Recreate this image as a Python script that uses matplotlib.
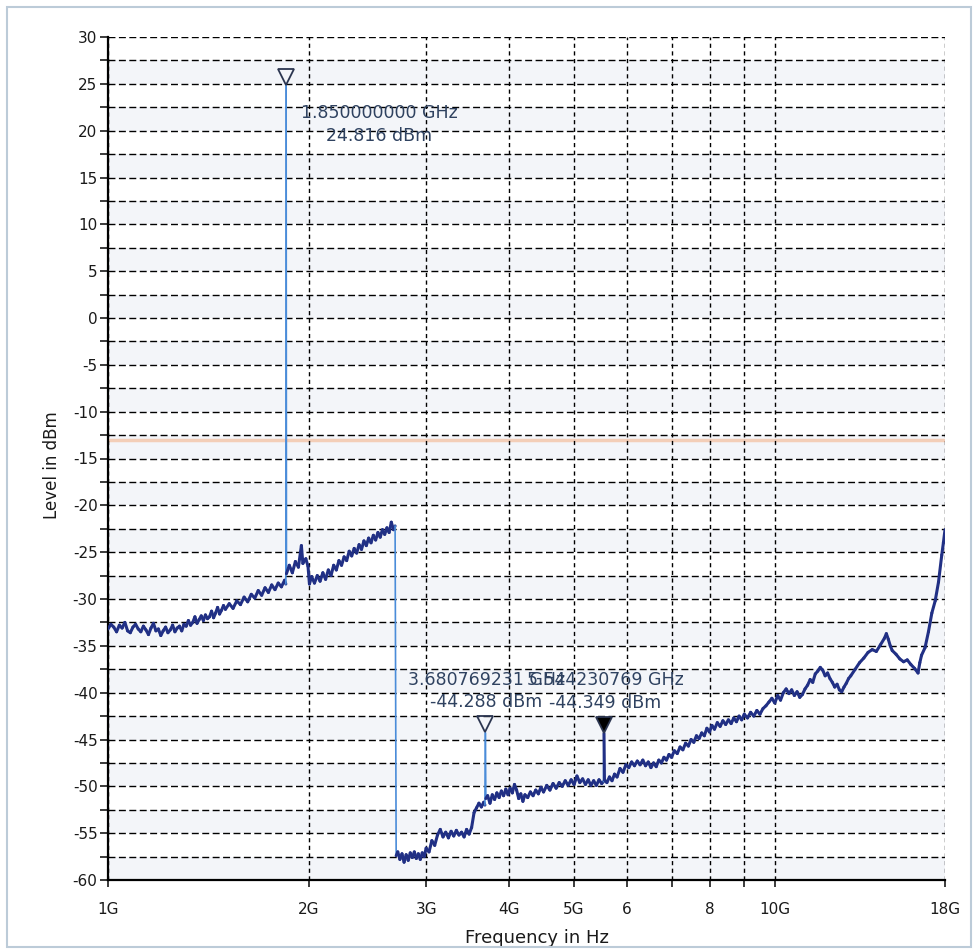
import numpy as np
import matplotlib
matplotlib.use("Agg")
import matplotlib.pyplot as plt
import matplotlib.transforms as mtransforms
from matplotlib.collections import LineCollection
from matplotlib.patches import Rectangle
from matplotlib.ticker import NullLocator

plt.rcParams["font.family"] = ["DejaVu Sans"]
plt.rcParams["axes.unicode_minus"] = False

# Measured spectrum trace (frequency in GHz, level in dBm)
freq_ghz = [
    1.00, 1.01, 1.02, 1.03, 1.04, 1.05, 1.06, 1.07, 1.08, 1.09,
    1.10, 1.11, 1.12, 1.13, 1.14, 1.15, 1.16, 1.17, 1.18, 1.19,
    1.20, 1.21, 1.22, 1.23, 1.24, 1.25, 1.26, 1.27, 1.28, 1.29,
    1.30, 1.31, 1.32, 1.33, 1.34, 1.35, 1.36, 1.37, 1.38, 1.39,
    1.40, 1.41, 1.42, 1.43, 1.44, 1.45, 1.46, 1.47, 1.48, 1.49,
    1.50, 1.52, 1.54, 1.56, 1.58, 1.60, 1.62, 1.64, 1.66, 1.68,
    1.70, 1.72, 1.74, 1.76, 1.78, 1.80, 1.82, 1.84, 1.848, 1.850,
    1.852, 1.87, 1.89, 1.91, 1.93, 1.95, 1.96, 1.98, 1.995, 2.005,
    2.02, 2.04, 2.06, 2.08, 2.10, 2.12, 2.14, 2.16, 2.18, 2.20,
    2.22, 2.24, 2.26, 2.28, 2.30, 2.32, 2.34, 2.36, 2.38, 2.40,
    2.42, 2.44, 2.46, 2.48, 2.50, 2.52, 2.54, 2.56, 2.58, 2.60,
    2.62, 2.64, 2.66, 2.68, 2.695, 2.705, 2.72, 2.74, 2.76, 2.78,
    2.80, 2.82, 2.84, 2.86, 2.88, 2.90, 2.92, 2.94, 2.96, 2.98,
    3.00, 3.03, 3.06, 3.09, 3.12, 3.15, 3.18, 3.21, 3.24, 3.27,
    3.30, 3.33, 3.36, 3.39, 3.42, 3.45, 3.48, 3.51, 3.54, 3.57,
    3.60, 3.63, 3.66, 3.675, 3.680769231, 3.687, 3.71, 3.74, 3.77, 3.80,
    3.83, 3.86, 3.89, 3.92, 3.95, 3.98, 4.01, 4.04, 4.07, 4.10,
    4.13, 4.16, 4.19, 4.22, 4.26, 4.30, 4.34, 4.38, 4.42, 4.46,
    4.50, 4.55, 4.60, 4.65, 4.70, 4.75, 4.80, 4.85, 4.90, 4.95,
    5.00, 5.05, 5.10, 5.15, 5.20, 5.25, 5.30, 5.35, 5.40, 5.45,
    5.50, 5.535, 5.544230769, 5.553, 5.60, 5.65, 5.70, 5.75, 5.80, 5.86,
    5.92, 5.98, 6.04, 6.10, 6.16, 6.22, 6.28, 6.34, 6.40, 6.46,
    6.52, 6.58, 6.64, 6.70, 6.76, 6.82, 6.88, 6.94, 7.00, 7.07,
    7.14, 7.21, 7.28, 7.35, 7.42, 7.49, 7.56, 7.63, 7.70, 7.77,
    7.84, 7.91, 7.98, 8.05, 8.12, 8.20, 8.28, 8.36, 8.44, 8.52,
    8.60, 8.68, 8.76, 8.84, 8.92, 9.00, 9.10, 9.20, 9.30, 9.40,
    9.50, 9.60, 9.70, 9.80, 9.90, 10.0, 10.1, 10.2, 10.3, 10.4,
    10.5, 10.6, 10.7, 10.8, 10.9, 11.0, 11.1, 11.2, 11.3, 11.4,
    11.5, 11.6, 11.7, 11.8, 11.9, 12.0, 12.1, 12.2, 12.3, 12.4,
    12.5, 12.6, 12.7, 12.8, 12.9, 13.0, 13.2, 13.4, 13.6, 13.8,
    14.0, 14.2, 14.4, 14.6, 14.7, 14.8, 14.9, 15.0, 15.2, 15.4,
    15.6, 15.8, 16.0, 16.2, 16.4, 16.5, 16.6, 16.8, 17.0, 17.2,
    17.4, 17.6, 17.8, 17.9, 18.0,
]
level_dbm = [
    -33.2, -32.7, -33.0, -33.5, -32.8, -33.1, -32.5, -33.4, -33.6, -33.0,
    -32.7, -33.2, -33.5, -32.9, -33.3, -33.8, -33.1, -32.6, -33.4, -33.2,
    -33.9, -33.4, -33.0, -33.6, -33.3, -32.8, -33.5, -33.1, -32.9, -33.4,
    -32.7, -32.9, -32.3, -32.8, -32.5, -31.9, -32.6, -32.2, -31.8, -32.3,
    -31.7, -32.1, -31.9, -31.3, -32.0, -31.5, -30.9, -31.6, -31.2, -30.7,
    -31.1, -30.5, -31.0, -30.2, -30.6, -29.8, -30.3, -29.5, -29.9, -29.1,
    -29.6, -28.8, -29.3, -28.5, -29.0, -28.3, -28.7, -28.0, -28.4, 24.816,
    -27.3, -26.4, -27.2, -26.0, -26.6, -24.3, -26.2, -25.7, -26.5, -28.4,
    -27.6, -28.3, -27.5, -28.1, -27.2, -27.9, -26.9, -27.5, -26.4, -26.9,
    -25.9, -26.4, -25.5, -25.9, -24.9, -25.4, -24.6, -25.1, -24.2, -24.7,
    -23.8, -24.3, -23.5, -24.0, -23.2, -23.7, -22.9, -23.4, -22.6, -23.1,
    -22.4, -22.9, -21.8, -22.6, -22.2, -57.4, -57.0, -57.8, -57.2, -58.1,
    -57.3, -57.9, -57.1, -57.6, -57.0, -57.7, -57.2, -57.8, -57.1, -57.5,
    -56.6, -57.0, -55.8, -56.3, -55.2, -54.6, -55.4, -54.9, -55.5, -54.8,
    -55.3, -54.7, -55.2, -54.9, -55.4, -54.6, -55.1, -54.4, -52.8, -52.3,
    -51.8, -52.2, -51.7, -52.0, -44.288, -51.3, -51.0, -51.8, -50.9, -51.4,
    -50.7, -51.2, -50.5, -51.0, -50.3, -50.9, -50.2, -50.7, -49.8, -50.4,
    -51.3, -50.8, -51.6, -50.9, -51.2, -50.6, -51.0, -50.4, -50.8, -50.1,
    -50.6, -49.9, -50.4, -49.7, -50.2, -49.6, -50.0, -49.4, -49.9, -49.3,
    -49.8, -48.9, -49.6, -49.2, -49.8, -49.3, -49.9, -49.4, -49.9, -49.3,
    -49.7, -49.5, -44.349, -49.3, -49.6, -49.0, -49.4, -48.7, -49.0, -48.1,
    -48.5, -47.7, -48.0, -47.4, -47.8, -47.3, -47.7, -47.2, -47.8, -47.4,
    -48.0, -47.5, -47.9, -47.2, -47.5, -46.9, -47.2, -46.6, -46.9, -46.2,
    -46.5, -45.8, -46.1, -45.4, -45.7, -45.0, -45.3, -44.6, -44.9, -44.3,
    -44.6, -43.8, -44.2, -43.5, -43.9, -43.2, -43.6, -43.0, -43.4, -42.9,
    -43.3, -42.7, -43.1, -42.5, -42.9, -42.3, -42.7, -42.1, -42.5, -41.9,
    -42.3, -41.7, -41.4, -41.0, -40.6, -41.1, -40.3, -40.8, -40.0, -39.6,
    -40.1, -39.7, -40.3, -39.9, -40.5, -40.2, -39.6, -39.2, -38.6, -38.9,
    -38.0, -37.7, -37.3, -37.6, -38.2, -37.9, -38.5, -38.9, -39.4, -39.1,
    -39.7, -39.9, -39.4, -39.0, -38.5, -38.2, -37.5, -36.8, -36.3, -35.7,
    -35.4, -35.6, -34.9, -34.2, -33.7, -34.3, -35.0, -35.5, -35.9, -36.4,
    -36.7, -36.5, -37.0, -37.4, -37.9, -36.8, -36.0, -35.2, -33.5, -31.5,
    -30.2, -28.2, -25.3, -24.0, -22.6,
]

# Markers
marker_freq_ghz = [1.850000000, 3.680769231, 5.544230769]
marker_level_dbm = [24.816, -44.288, -44.349]
marker_filled = [False, False, True]
# label offsets (pixels) relative to each marker point
marker_label_dx = [93, 1, 1]
marker_label_dy = [-39, 42, 42]

# Spurious-emission limit line
limit_level_dbm = -13.0

# Axes ticks
x_ticks_ghz = [1, 2, 3, 4, 5, 6, 7, 8, 9, 10, 18]
x_tick_labels = ["1G", "2G", "3G", "4G", "5G", "6", "", "8", "", "10G", "18G"]
y_major_ticks = list(range(-60, 31, 5))
y_minor_ticks = [v + 2.5 for v in range(-60, 30, 5)]

W, H = 977, 952
fig = plt.figure(figsize=(W / 100, H / 100), dpi=100)
fig.patch.set_facecolor("white")
ax = fig.add_axes([108 / W, 1 - 880 / H, 837 / W, 843 / H])

ax.set_xscale("log")
ax.set_xlim(1, 18)
ax.set_ylim(-60, 30)

# faint alternating background bands
for lo in range(-60, 30, 5):
    ax.axhspan(lo, lo + 2.5, color="#f3f5f9", zorder=0.1, lw=0)

# limit line
ax.axhline(limit_level_dbm, color="#f4b48e", lw=2.5, alpha=0.6, zorder=0.3)

# ticks
ax.set_xticks(x_ticks_ghz)
ax.set_xticklabels(x_tick_labels)
ax.xaxis.set_minor_locator(NullLocator())
ax.set_yticks(y_major_ticks)
ax.set_yticks(y_minor_ticks, minor=True)
ax.tick_params(axis="y", which="both", direction="out", length=6, width=1.2,
               labelsize=11, pad=1.5, colors="#1a1a1a")
ax.tick_params(axis="x", which="both", direction="out", length=5, width=1.2,
               labelsize=11, pad=11, colors="#1a1a1a")

# grid
ax.set_axisbelow(True)
ax.yaxis.grid(True, which="both", color="black", linestyle=(0, (5, 2.5)), lw=1.0)
ax.xaxis.grid(True, which="major", color="black", linestyle=(0, (3, 2.5)), lw=1.0)

for side in ("top", "right"):
    ax.spines[side].set_visible(False)
for side in ("left", "bottom"):
    ax.spines[side].set_color("black")
    ax.spines[side].set_linewidth(1.6)

# trace: steep jumps drawn thinner and lighter
f = np.asarray(freq_ghz)
v = np.asarray(level_dbm)
pts = np.column_stack([f, v]).reshape(-1, 1, 2)
segs = np.concatenate([pts[:-1], pts[1:]], axis=1)
jump = np.abs(np.diff(v)) > 5
colors = np.where(jump[:, None], np.array([[0.29, 0.55, 0.85, 1.0]]),
                  np.array([[0.13, 0.19, 0.52, 1.0]]))
widths = np.where(jump, 1.2, 2.2)
lc = LineCollection(segs, colors=colors, linewidths=widths, zorder=3,
                    capstyle="round", joinstyle="round")
ax.add_collection(lc)

# markers with labels
tri_tf = mtransforms.offset_copy(ax.transData, fig=fig, x=0, y=6, units="points")
for mf, mv, filled, dx, dy in zip(marker_freq_ghz, marker_level_dbm, marker_filled,
                                  marker_label_dx, marker_label_dy):
    ax.plot([mf], [mv], marker="v", ms=12,
            mfc="black" if filled else "none", mec="#2b3550", mew=1.3,
            transform=tri_tf, zorder=5, clip_on=False)
    ax.annotate(f"{mf:.9f} GHz\n{mv:.3f} dBm", xy=(mf, mv), xytext=(dx, dy),
                textcoords="offset pixels", ha="center", va="center",
                fontsize=12.5, linespacing=1.3, color="#2f4260", zorder=6)

# axis labels
ax.set_xlabel("Frequency in Hz", fontsize=13, color="#1a1a1a")
ax.set_ylabel("Level in dBm", fontsize=12, color="#1a1a1a")
ax.xaxis.set_label_coords((537 - 108) / 837, (880 - 938) / 843)
ax.xaxis.label.set_va("center")
ax.yaxis.set_label_coords((52 - 108) / 837, (880 - 465) / 843)
ax.yaxis.label.set_va("center")

# outer frame
fig.patches.append(Rectangle((7 / W, 5 / H), 964 / W, 940 / H, transform=fig.transFigure,
                             fill=False, ec="#bccbd8", lw=1.5))

fig.savefig("out.png", dpi=100)
